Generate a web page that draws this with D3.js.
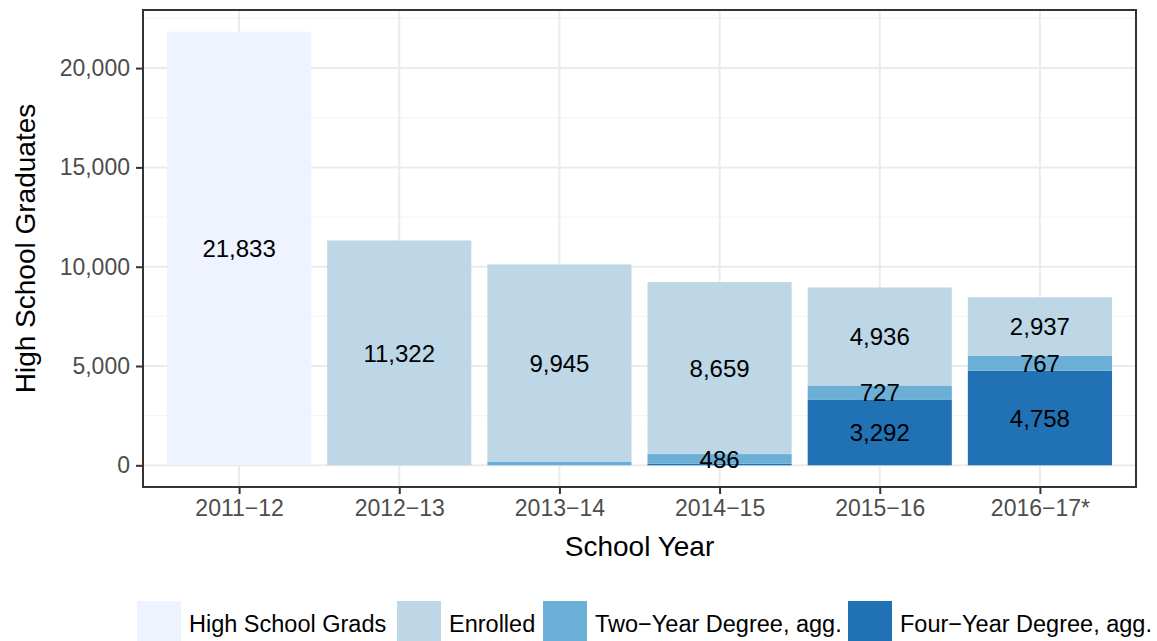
<!DOCTYPE html>
<html>
<head>
<meta charset="utf-8">
<script src="https://cdn.jsdelivr.net/npm/d3@7"></script>
<style>
  body { margin: 0; background: #fff; }
  svg { font-family: "Liberation Sans", Arial, sans-serif; display: block; }
</style>
</head>
<body>
<div id="chart"></div>
<script>
// data
var years = ["2011\u221212", "2012\u221213", "2013\u221214", "2014\u221215", "2015\u221216", "2016\u221217*"];
var seriesNames = ["High School Grads", "Enrolled", "Two\u2212Year Degree, agg.", "Four\u2212Year Degree, agg."];
var hsGrads  = [21833, 0, 0, 0, 0, 0];
var enrolled = [0, 11322, 9945, 8659, 4936, 2937];
var twoYear  = [0, 0, 170, 486, 727, 767];
var fourYear = [0, 0, 0, 80, 3292, 4758];
var yTicks = [0, 5000, 10000, 15000, 20000];
var colors = ["#EFF3FF", "#BDD7E7", "#6BAED6", "#2171B5"];

var W = 1157, H = 641;
var margin = {top: 10, right: 21, bottom: 154, left: 143};
var width = W - margin.left - margin.right;
var height = H - margin.top - margin.bottom;

var rows = years.map(function(y, i){
  return {year: y, hs: hsGrads[i], en: enrolled[i], two: twoYear[i], four: fourYear[i]};
});
var keys = ["four", "two", "en", "hs"];  // bottom to top
var colorOf = {hs: colors[0], en: colors[1], two: colors[2], four: colors[3]};

var stack = d3.stack().keys(keys)(rows);

var ymax = d3.max(rows, function(d){ return d.hs + d.en + d.two + d.four; });
var y = d3.scaleLinear()
    .domain([-0.05 * ymax, 1.05 * ymax])
    .range([height, 0]);

// discrete axis: expansion of 0.6 units on each side
var step = width / (years.length - 1 + 1.2);
var x = d3.scalePoint()
    .domain(years)
    .range([0.6 * step, width - 0.6 * step]);
var barW = 0.9 * step;

var svg = d3.select("#chart").append("svg")
    .attr("width", W).attr("height", H);

var g = svg.append("g")
    .attr("transform", "translate(" + margin.left + "," + margin.top + ")");

// grid
var minor = [2500, 7500, 12500, 17500, 22500];
g.selectAll(".minor").data(minor).enter().append("line")
    .attr("x1", 0).attr("x2", width)
    .attr("y1", function(d){ return y(d); }).attr("y2", function(d){ return y(d); })
    .attr("stroke", "#F3F3F3").attr("stroke-width", 1);
g.selectAll(".majy").data(yTicks).enter().append("line")
    .attr("x1", 0).attr("x2", width)
    .attr("y1", function(d){ return y(d); }).attr("y2", function(d){ return y(d); })
    .attr("stroke", "#EBEBEB").attr("stroke-width", 2);
g.selectAll(".majx").data(years).enter().append("line")
    .attr("y1", 0).attr("y2", height)
    .attr("x1", function(d){ return x(d); }).attr("x2", function(d){ return x(d); })
    .attr("stroke", "#EBEBEB").attr("stroke-width", 2);

// bars
stack.forEach(function(layer){
  g.selectAll(".bar-" + layer.key)
    .data(layer.filter(function(d){ return d[1] - d[0] > 0; }))
    .enter().append("rect")
    .attr("x", function(d){ return x(d.data.year) - barW / 2; })
    .attr("width", barW)
    .attr("y", function(d){ return y(d[1]); })
    .attr("height", function(d){ return y(d[0]) - y(d[1]); })
    .attr("fill", colorOf[layer.key]);
});

// labels (small segments unlabelled)
stack.forEach(function(layer){
  g.selectAll(".lab-" + layer.key)
    .data(layer.filter(function(d){ return d[1] - d[0] > 300; }))
    .enter().append("text")
    .attr("x", function(d){ return x(d.data.year); })
    .attr("y", function(d){ return y((d[0] + d[1]) / 2); })
    .attr("dy", "0.36em")
    .attr("text-anchor", "middle")
    .attr("font-size", 24)
    .attr("fill", "#000")
    .text(function(d){ return d3.format(",")(d[1] - d[0]); });
});

// panel border
g.append("rect")
    .attr("width", width).attr("height", height)
    .attr("fill", "none").attr("stroke", "#333333").attr("stroke-width", 2);

// axes
var xAxis = g.append("g")
    .attr("transform", "translate(0," + height + ")")
    .call(d3.axisBottom(x).tickSizeOuter(0).tickSize(7).tickPadding(6));
var yAxis = g.append("g")
    .call(d3.axisLeft(y).tickValues(yTicks).tickFormat(d3.format(",")).tickSizeOuter(0).tickSize(7).tickPadding(6));
[xAxis, yAxis].forEach(function(a){
  a.select(".domain").remove();
  a.selectAll(".tick line").attr("stroke", "#333333").attr("stroke-width", 2);
  a.selectAll(".tick text").attr("fill", "#4D4D4D").attr("font-size", 23)
    .attr("font-family", "Liberation Sans, Arial, sans-serif");
});

// axis titles
svg.append("text")
    .attr("x", margin.left + width / 2).attr("y", 556)
    .attr("text-anchor", "middle").attr("font-size", 28).attr("fill", "#000")
    .text("School Year");
svg.append("text")
    .attr("transform", "translate(35," + (margin.top + height / 2) + ") rotate(-90)")
    .attr("text-anchor", "middle").attr("font-size", 28).attr("fill", "#000")
    .text("High School Graduates");

// legend
var legX = [137, 397, 543, 848];
var leg = svg.append("g");
seriesNames.forEach(function(name, i){
  var item = leg.append("g").attr("transform", "translate(" + legX[i] + ",601)");
  item.append("rect").attr("width", 44).attr("height", 46).attr("fill", colors[i]);
  item.append("text").attr("x", 52).attr("y", 23).attr("dy", "0.35em")
    .attr("font-size", 23.5).attr("fill", "#000").text(name);
});
</script>
</body>
</html>
